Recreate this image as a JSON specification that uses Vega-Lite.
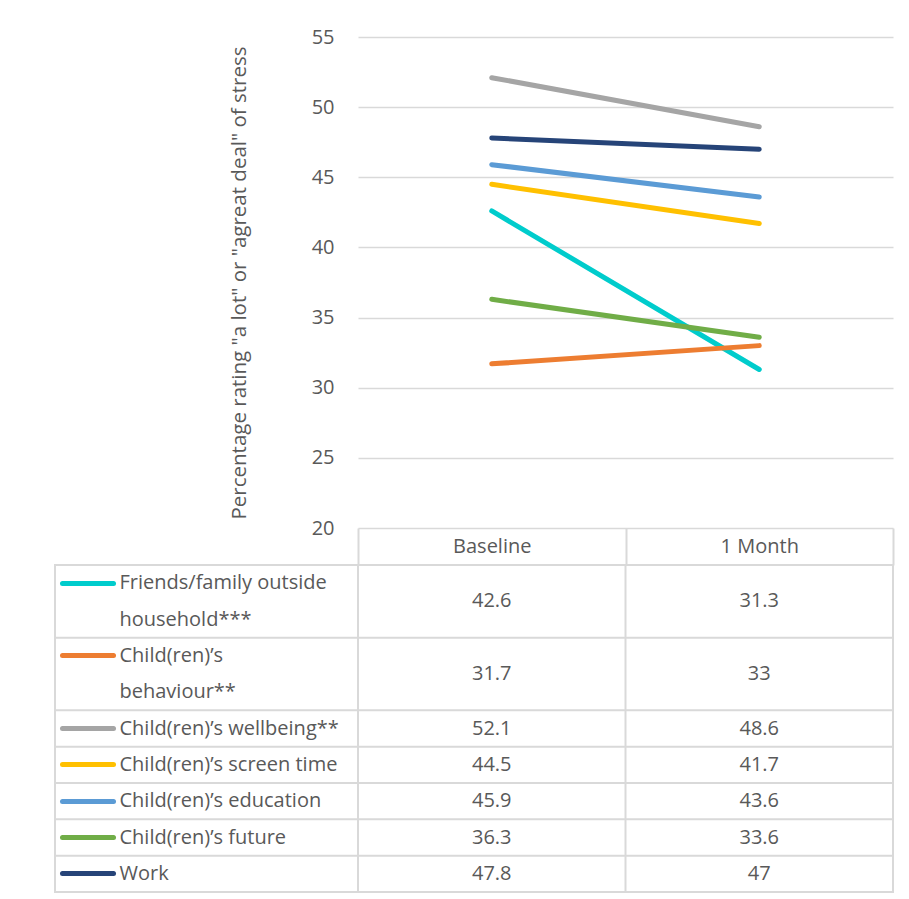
{
  "$schema": "https://vega.github.io/schema/vega-lite/v6.json",
  "padding": {"left": 53, "top": 27, "right": 5, "bottom": 5},
  "background": "white",
  "datasets": {
    "values": [
      {"series": "Friends/family outside household***", "time": "Baseline", "value": 42.6},
      {"series": "Friends/family outside household***", "time": "1 Month", "value": 31.3},
      {"series": "Child(ren)’s behaviour**", "time": "Baseline", "value": 31.7},
      {"series": "Child(ren)’s behaviour**", "time": "1 Month", "value": 33},
      {"series": "Child(ren)’s wellbeing**", "time": "Baseline", "value": 52.1},
      {"series": "Child(ren)’s wellbeing**", "time": "1 Month", "value": 48.6},
      {"series": "Child(ren)’s screen time", "time": "Baseline", "value": 44.5},
      {"series": "Child(ren)’s screen time", "time": "1 Month", "value": 41.7},
      {"series": "Child(ren)’s education", "time": "Baseline", "value": 45.9},
      {"series": "Child(ren)’s education", "time": "1 Month", "value": 43.6},
      {"series": "Child(ren)’s future", "time": "Baseline", "value": 36.3},
      {"series": "Child(ren)’s future", "time": "1 Month", "value": 33.6},
      {"series": "Work", "time": "Baseline", "value": 47.8},
      {"series": "Work", "time": "1 Month", "value": 47}
    ],
    "legend": [
      {"series": "Friends/family outside household***", "line1": "Friends/family outside", "line2": "household***"},
      {"series": "Child(ren)’s behaviour**", "line1": " Child(ren)’s", "line2": "behaviour**"},
      {"series": "Child(ren)’s wellbeing**", "line1": "Child(ren)’s wellbeing**"},
      {"series": "Child(ren)’s screen time", "line1": "Child(ren)’s screen time"},
      {"series": "Child(ren)’s education", "line1": "Child(ren)’s education"},
      {"series": "Child(ren)’s future", "line1": "Child(ren)’s future"},
      {"series": "Work", "line1": "Work"}
    ]
  },
  "columns": 2,
  "spacing": {"row": 37, "column": 0},
  "bounds": "flush",
  "align": "each",
  "concat": [
    {
      "width": 303,
      "height": 491,
      "data": {"values": []},
      "mark": "text"
    },
    {
      "width": 535,
      "height": 491,
      "data": {"name": "values"},
      "mark": {"type": "line", "strokeWidth": 5, "strokeCap": "round"},
      "encoding": {
        "x": {
          "field": "time", "type": "nominal", "bandPosition": 0.5,
          "scale": {"type": "band", "domain": ["Baseline", "1 Month"], "paddingInner": 0, "paddingOuter": 0},
          "axis": {
            "orient": "bottom", "title": null, "domain": false, "grid": false,
            "tickBand": "extent", "tickSize": 37, "tickColor": "#d9d9d9", "tickWidth": 2,
            "labelAngle": 0, "labelBaseline": "middle", "labelPadding": -18.5,
            "labelColor": "#595959", "labelFontSize": 20
          }
        },
        "y": {
          "field": "value", "type": "quantitative",
          "scale": {"domain": [20, 55], "nice": false, "zero": false},
          "axis": {
            "values": [20, 25, 30, 35, 40, 45, 50, 55],
            "domain": false, "ticks": false, "labelPadding": 24,
            "gridColor": "#d9d9d9", "gridWidth": 1.5,
            "labelColor": "#595959", "labelFontSize": 20,
            "title": "Percentage rating \"a lot\" or \"agreat deal\" of stress",
            "titleColor": "#595959", "titleFontSize": 20.5, "titleFontWeight": "normal", "titlePadding": 62
          }
        },
        "color": {
          "field": "series", "type": "nominal",
          "scale": {
            "domain": ["Friends/family outside household***", "Child(ren)’s behaviour**", "Child(ren)’s wellbeing**", "Child(ren)’s screen time", "Child(ren)’s education", "Child(ren)’s future", "Work"],
            "range": ["#00CCCC", "#ED7D31", "#A5A5A5", "#FFC000", "#5B9BD5", "#70AD47", "#264478"]
          },
          "legend": null
        }
      }
    },
    {
      "width": 303,
      "height": 327,
      "view": {"stroke": "#d9d9d9", "strokeWidth": 2},
      "data": {"name": "legend"},
      "mark": {"type": "rule", "color": "#d9d9d9", "strokeWidth": 2},
      "encoding": {
        "y": {
          "field": "line1", "type": "nominal", "bandPosition": 0,
          "scale": {"type": "band", "domain": ["Friends/family outside", "household***", " Child(ren)’s", "behaviour**", "Child(ren)’s wellbeing**", "Child(ren)’s screen time", "Child(ren)’s education", "Child(ren)’s future", "Work"], "paddingInner": 0, "paddingOuter": 0},
          "axis": {
            "orient": "left", "offset": -58, "title": null, "domain": false, "grid": false,
            "tickSize": 51, "tickWidth": 5, "tickCap": "round",
            "tickColor": {
              "condition": [
                {"test": "datum.value === 'Friends/family outside'", "value": "#00CCCC"},
                {"test": "datum.value === ' Child(ren)’s'", "value": "#ED7D31"},
                {"test": "datum.value === 'Child(ren)’s wellbeing**'", "value": "#A5A5A5"},
                {"test": "datum.value === 'Child(ren)’s screen time'", "value": "#FFC000"},
                {"test": "datum.value === 'Child(ren)’s education'", "value": "#5B9BD5"},
                {"test": "datum.value === 'Child(ren)’s future'", "value": "#70AD47"},
                {"test": "datum.value === 'Work'", "value": "#264478"}
              ],
              "value": "transparent"
            },
            "labelAlign": "left", "labelBaseline": "middle", "labelPadding": -57,
            "labelFontSize": 20, "labelColor": "#595959", "labelLimit": 400, "labelOverlap": false
          }
        }
      }
    },
    {
      "width": 535,
      "height": 327,
      "view": {"stroke": "#d9d9d9", "strokeWidth": 2},
      "layer": [
        {
          "data": {"name": "legend"},
          "mark": {"type": "rule", "color": "#d9d9d9", "strokeWidth": 2},
          "encoding": {
            "y": {
              "field": "line1", "type": "nominal", "bandPosition": 0,
              "scale": {"type": "band", "domain": ["Friends/family outside", "household***", " Child(ren)’s", "behaviour**", "Child(ren)’s wellbeing**", "Child(ren)’s screen time", "Child(ren)’s education", "Child(ren)’s future", "Work"], "paddingInner": 0, "paddingOuter": 0},
              "axis": null
            }
          }
        },
        {
          "data": {"name": "values"},
          "transform": [{"aggregate": [{"op": "count", "as": "n"}], "groupby": ["time"]}],
          "mark": {"type": "rule", "color": "#d9d9d9", "strokeWidth": 2},
          "encoding": {
            "x": {
              "field": "time", "type": "nominal", "bandPosition": 0,
              "scale": {"type": "band", "domain": ["Baseline", "1 Month"], "paddingInner": 0, "paddingOuter": 0},
              "axis": null
            }
          }
        },
        {
          "data": {"name": "values"},
          "transform": [
            {"lookup": "series", "from": {"data": {"name": "legend"}, "key": "series", "fields": ["line1", "line2"]}},
            {"filter": "isValid(datum.line2)"}
          ],
          "mark": {"type": "text", "fontSize": 20, "color": "#595959", "align": "center", "baseline": "middle"},
          "encoding": {
            "x": {"field": "time", "type": "nominal", "bandPosition": 0.5, "scale": {"type": "band", "domain": ["Baseline", "1 Month"], "paddingInner": 0, "paddingOuter": 0}, "axis": null},
            "y": {"field": "line1", "type": "nominal", "bandPosition": 1, "scale": {"type": "band", "domain": ["Friends/family outside", "household***", " Child(ren)’s", "behaviour**", "Child(ren)’s wellbeing**", "Child(ren)’s screen time", "Child(ren)’s education", "Child(ren)’s future", "Work"], "paddingInner": 0, "paddingOuter": 0}, "axis": null},
            "text": {"field": "value", "type": "nominal"}
          }
        },
        {
          "data": {"name": "values"},
          "transform": [
            {"lookup": "series", "from": {"data": {"name": "legend"}, "key": "series", "fields": ["line1", "line2"]}},
            {"filter": "!isValid(datum.line2)"}
          ],
          "mark": {"type": "text", "fontSize": 20, "color": "#595959", "align": "center", "baseline": "middle"},
          "encoding": {
            "x": {"field": "time", "type": "nominal", "bandPosition": 0.5, "scale": {"type": "band", "domain": ["Baseline", "1 Month"], "paddingInner": 0, "paddingOuter": 0}, "axis": null},
            "y": {"field": "line1", "type": "nominal", "bandPosition": 0.5, "scale": {"type": "band", "domain": ["Friends/family outside", "household***", " Child(ren)’s", "behaviour**", "Child(ren)’s wellbeing**", "Child(ren)’s screen time", "Child(ren)’s education", "Child(ren)’s future", "Work"], "paddingInner": 0, "paddingOuter": 0}, "axis": null},
            "text": {"field": "value", "type": "nominal"}
          }
        }
      ]
    }
  ],
  "config": {
    "font": "Open Sans",
    "view": {"stroke": null}
  }
}
